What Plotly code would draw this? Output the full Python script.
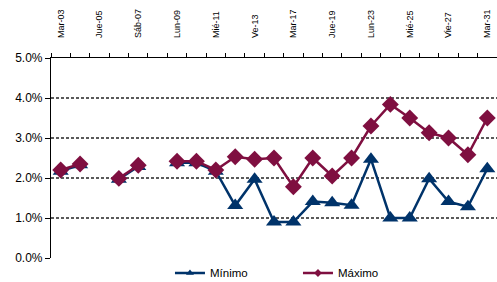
import plotly.graph_objects as go

categories = ["Mar-03", "Mié-04", "Jue-05", "Vie-06", "Sáb-07", "Dom-08", "Lun-09", "Mar-10",
              "Mié-11", "Jue-12", "Ve-13", "Lun-16", "Mar-17", "Mié-18", "Jue-19", "Vie-20",
              "Lun-23", "Mar-24", "Mié-25", "Jue-26", "Vie-27", "Lun-30", "Mar-31"]
minimo = [2.17, 2.33, None, 1.97, 2.29, None, 2.38, 2.38, 2.17, 1.31, 1.97, 0.90, 0.90,
          1.41, 1.38, 1.32, 2.47, 1.00, 1.00, 1.98, 1.41, 1.28, 2.23]
maximo = [2.20, 2.35, None, 1.99, 2.32, None, 2.42, 2.42, 2.20, 2.53, 2.47, 2.50, 1.78,
          2.50, 2.05, 2.50, 3.30, 3.84, 3.50, 3.13, 3.00, 2.58, 3.50]
y_ticks = [0, 1, 2, 3, 4, 5]
y_tick_labels = ["0.0%", "1.0%", "2.0%", "3.0%", "4.0%", "5.0%"]

x = list(range(len(categories)))
BLUE = "#00336A"
RED = "#7F0F40"
FONT = "Liberation Sans, Arial, sans-serif"

fig = go.Figure()
fig.add_trace(go.Scatter(x=x, y=minimo, name="Mínimo", mode="lines+markers",
                         line=dict(color=BLUE, width=2.5),
                         marker=dict(symbol="triangle-up", size=14, color=BLUE),
                         connectgaps=False, cliponaxis=False, showlegend=False))
fig.add_trace(go.Scatter(x=x, y=maximo, name="Máximo", mode="lines+markers",
                         line=dict(color=RED, width=2.5),
                         marker=dict(symbol="diamond", size=13, color=RED),
                         connectgaps=False, cliponaxis=False, showlegend=False))
# legend entries with small markers, as in the reference
fig.add_trace(go.Scatter(x=[None], y=[None], name="Mínimo", mode="lines+markers",
                         line=dict(color=BLUE, width=2.5),
                         marker=dict(symbol="triangle-up", size=7, color=BLUE)))
fig.add_trace(go.Scatter(x=[None], y=[None], name="Máximo", mode="lines+markers",
                         line=dict(color=RED, width=2.5),
                         marker=dict(symbol="diamond", size=6, color=RED)))

fig.update_layout(
    width=497, height=282,
    margin=dict(l=51, r=0, t=58, b=24),
    paper_bgcolor="white", plot_bgcolor="white",
    font=dict(family=FONT, color="black", size=11),
    showlegend=True,
    legend=dict(orientation="h", xref="container", yref="container",
                x=0.342, xanchor="left", y=0.032, yanchor="middle",
                font=dict(size=11.5, family=FONT), entrywidth=83, entrywidthmode="pixels",
                bgcolor="rgba(0,0,0,0)", tracegroupgap=0),
)
fig.update_xaxes(
    range=[-0.5, len(categories) - 0.5], side="top", automargin=False,
    tickmode="array", tickvals=x[::2], ticktext=categories[::2],
    tickangle=-90, ticks="", tickfont=dict(size=9, family=FONT),
    ticklabelstandoff=17,
    showline=True, linecolor="black", linewidth=1.2,
    showgrid=False, zeroline=False,
    minor=dict(ticks="outside", tickmode="array",
               tickvals=[i - 0.5 for i in range(len(categories) + 1)],
               ticklen=4, tickcolor="black", showgrid=False),
)
fig.update_yaxes(
    range=[0, 5], automargin=False, tickmode="array", tickvals=y_ticks, ticktext=y_tick_labels,
    ticks="outside", ticklen=5, tickcolor="black",
    tickfont=dict(size=12, family=FONT),
    showline=True, linecolor="black", linewidth=1.2,
    showgrid=True, gridcolor="#5a5a5a", gridwidth=1.5, griddash="3px,2px",
    zeroline=False,
)
fig.write_html("out.html", config={"displayModeBar": False},
               post_script="document.body.style.margin='0';document.body.style.overflow='hidden';")
